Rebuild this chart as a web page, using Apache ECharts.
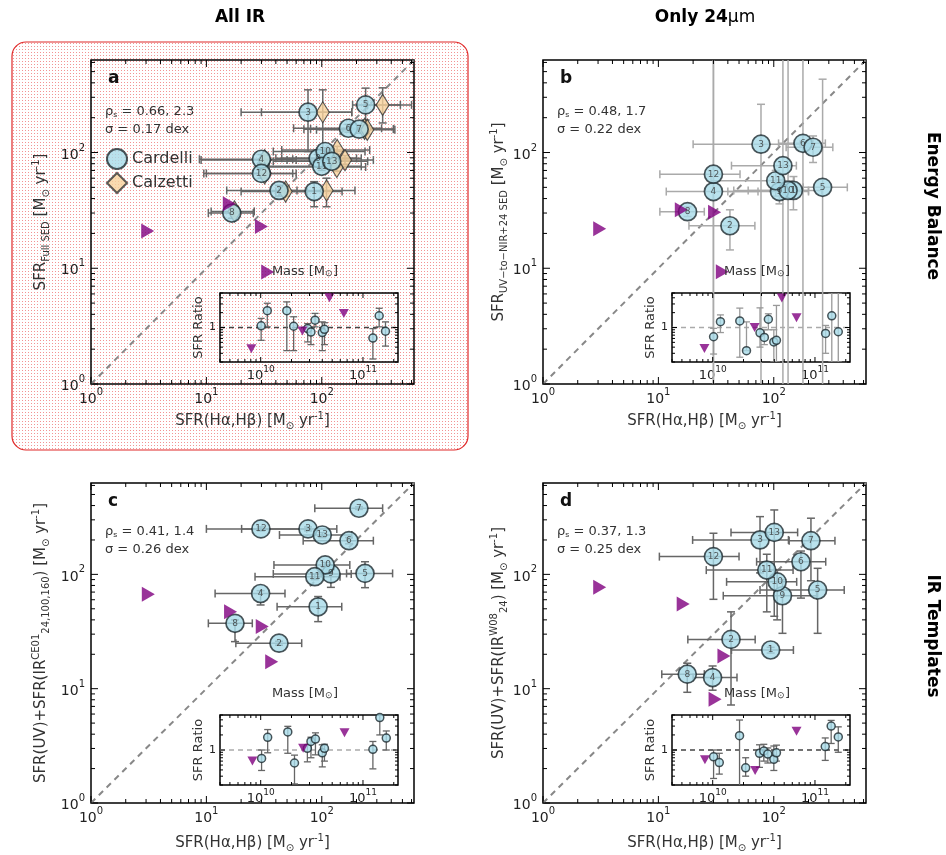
<!DOCTYPE html>
<html>
<head>
<meta charset="utf-8">
<script src="https://cdn.jsdelivr.net/npm/echarts@6/dist/echarts.min.js"></script>
<style>
html, body { margin: 0; padding: 0; background: #fff; }
#chart { width: 946px; height: 855px; }
</style>
</head>
<body>
<div id="chart"></div>
<script>
// rows: [id, x, xlo, xhi, y, ylo, yhi]
const aCardelli = [
  [1, 86, 40, 150, 46, 34, 56], [2, 42.6, 15, 61, 47, 42, 52], [3, 76, 20, 182, 223, 102, 348],
  [4, 30, 8.7, 56, 87.5, 80, 96], [5, 240, 185, 480, 258, 191, 360], [6, 170, 57, 330, 162, 150, 175],
  [7, 211, 70, 417, 159, 147, 172], [8, 16.6, 10.4, 25.5, 30, 27, 33], [9, 93, 40, 200, 89, 82, 96],
  [10, 107, 38, 237, 102, 94, 110], [11, 100, 28, 220, 76, 70, 83], [12, 30, 9.5, 56, 66, 60, 72],
  [13, 122, 38, 250, 84, 77, 92]
];
const aCalzetti = [
  [1, 110, 48, 194, 47, 34, 60], [2, 48.6, 20, 75, 46, 42, 51], [3, 102, 30, 182, 223, 100, 348],
  [4, 32, 9, 60, 86, 80, 94], [5, 337, 250, 600, 258, 180, 362], [6, 235, 80, 420, 160, 148, 173],
  [7, 248, 90, 430, 157, 145, 170], [8, 17.5, 11, 26, 31, 28, 34], [9, 120, 45, 220, 89, 82, 96],
  [10, 136, 45, 260, 105, 97, 113], [11, 135, 35, 240, 75, 69, 82], [12, 32, 10, 60, 66, 60, 72],
  [13, 159, 50, 280, 86, 79, 94]
];
const aLimits = [[3.1, 21], [15.8, 36], [30, 22.9], [34, 9.3]];

const bPoints = [
  [1, 148, 60, 260, 47, 32, 62], [2, 41.7, 18.4, 68.6, 23.3, 14.4, 32], [3, 77.5, 20, 169, 118, 0.3, 261],
  [4, 30, 11.7, 73, 46, 0.3, 2000], [5, 265, 180, 434, 50, 0.3, 430], [6, 179, 110, 280, 120, 0.3, 2000],
  [7, 219, 128, 325, 111, 82, 139], [8, 17.9, 10.3, 25, 30.8, 28, 34], [9, 112, 40, 200, 46, 36, 58],
  [10, 133, 45, 200, 47, 0.3, 2000], [11, 104, 28.6, 150, 57, 42, 70], [12, 30, 10.3, 51, 65, 0.3, 2000],
  [13, 120, 43, 157, 77, 0.3, 2000]
];
const bLimits = [[3.1, 22], [15.8, 32], [30.7, 30.5], [35.8, 9.35]];

const cPoints = [
  [1, 93, 41, 149, 52, 38.6, 64], [2, 42.6, 18, 67, 25, 24, 26], [3, 76, 20.2, 135, 250, 240, 260],
  [4, 29.5, 11.9, 48, 68, 54, 72], [5, 237, 164, 411, 102, 76.5, 129], [6, 172, 69, 280, 197, 185, 210],
  [7, 210, 87, 337, 379, 370, 390], [8, 17.7, 10.4, 25, 37.3, 25.8, 40], [9, 120, 38, 180, 101, 77, 110],
  [10, 107, 38.5, 175, 121, 115, 127], [11, 87, 26.4, 144, 95.5, 90, 100], [12, 29.7, 10, 74, 250, 240, 260],
  [13, 101, 43, 182, 221, 210, 232]
];
const cLimits = [[3.14, 67], [16.2, 47], [30.5, 35], [36.8, 17.2]];

const dPoints = [
  [1, 94, 43, 148, 21.8, 20.5, 23], [2, 42.6, 18, 69, 27, 7.2, 47], [3, 76, 19.8, 134, 200, 103, 320],
  [4, 29.5, 20, 48, 12.5, 9.7, 15.8], [5, 240, 76, 408, 73, 30.5, 113], [6, 172, 71, 282, 129, 62, 160],
  [7, 210, 136, 339, 197, 88, 310], [8, 17.8, 10.7, 25, 13.4, 9.3, 16.7], [9, 119, 36.5, 235, 65, 30.5, 90],
  [10, 107, 39, 158, 86, 40, 110], [11, 87, 26, 147, 109, 47, 150], [12, 30, 10.2, 50, 143, 60.5, 229],
  [13, 101, 42.6, 161, 233, 43, 366]
];
const dLimits = [[3.1, 77], [16.4, 55], [37, 19.3], [31, 8.1]];

// inset rows: [mass, ratio, lo, hi]
const aInset = [
  [1.01e10, 1.08, 0.55, 1.53], [1.16e10, 2.19, 1.03, 3.1], [1.8e10, 2.19, 0.34, 3.3], [2.1e10, 1.06, 0.34, 1.65],
  [2.88e10, 0.95, 0.51, 1.2], [3.1e10, 0.81, 0.45, 0.97], [3.4e10, 1.41, 1.03, 1.93], [4.0e10, 0.79, 0.34, 1.3],
  [4.2e10, 0.92, 0.45, 1.25], [1.25e11, 0.61, 0.23, 0.95], [1.44e11, 1.73, 1.03, 2.45], [1.66e11, 0.84, 0.42, 1.3]
];
const aInsetLimits = [[8.1e9, 0.37], [2.56e10, 0.85], [4.7e10, 4.0], [6.5e10, 1.93]];

const bInset = [
  [1.02e10, 0.65, 0.29, 0.96], [1.19e10, 1.31, 0.79, 1.8], [1.84e10, 1.36, 0.25, 2.47], [2.14e10, 0.34, 0.34, 1.3],
  [2.9e10, 0.78, 0.4, 2.5], [3.2e10, 0.63, 0.45, 0.9], [3.5e10, 1.47, 0.9, 1.9], [3.96e10, 0.51, 0.2, 0.9],
  [4.2e10, 0.55, 0.2, 2.8], [1.27e11, 0.76, 0.3, 1.1], [1.46e11, 1.72, 0.2, 5], [1.69e11, 0.82, 0.2, 5]
];
const bInsetLimits = [[8.3e9, 0.376], [2.57e10, 1.0], [4.74e10, 3.96], [6.6e10, 1.58]];

const cInset = [
  [1.02e10, 0.68, 0.39, 1.0], [1.17e10, 1.79, 0.88, 2.56], [1.84e10, 2.3, 0.86, 2.97], [2.14e10, 0.55, 0.21, 0.79],
  [2.86e10, 1.08, 0.58, 1.27], [3.1e10, 1.48, 0.7, 1.8], [3.43e10, 1.65, 0.8, 2.2], [4.0e10, 0.88, 0.46, 1.27],
  [4.2e10, 1.08, 0.6, 1.3], [1.25e11, 1.03, 0.42, 1.48], [1.46e11, 4.45, 2.0, 5.2], [1.69e11, 1.73, 1.0, 2.4]
];
const cInsetLimits = [[8.3e9, 0.6], [2.6e10, 1.08], [6.6e10, 2.2]];

const dInset = [
  [1.02e10, 0.73, 0.27, 1.0], [1.16e10, 0.56, 0.33, 0.86], [1.83e10, 1.93, 0.15, 3.97], [2.1e10, 0.44, 0.3, 0.7],
  [2.87e10, 0.86, 0.45, 1.27], [3.16e10, 0.95, 0.6, 1.3], [3.46e10, 0.83, 0.55, 1.1], [3.96e10, 0.65, 0.39, 1.2],
  [4.2e10, 0.88, 0.6, 1.25], [1.26e11, 1.17, 0.62, 1.74], [1.44e11, 3.0, 1.35, 3.9], [1.69e11, 1.82, 0.9, 2.9]
];
const dInsetLimits = [[8.4e9, 0.64], [2.6e10, 0.39], [6.6e10, 2.36]];

const statsText = [
  ['0.66, 2.3', '0.17'], ['0.48, 1.7', '0.22'], ['0.41, 1.4', '0.26'], ['0.37, 1.3', '0.25']
];

const FONT = 'DejaVu Sans';
const MAIN_MIN = 1, MAIN_MAX = 630;
const MASS_MIN = 4e9, MASS_MAX = 2.2e11;
const RATIO_MIN = 0.2, RATIO_MAX = 5;

const richSub = {
  sub: { fontSize: 10, lineHeight: 10, verticalAlign: 'bottom', fontFamily: FONT, color: '#333' },
  sup: { fontSize: 10, lineHeight: 10, verticalAlign: 'top', fontFamily: FONT, color: '#333' }
};
const powRich = {
  b: { fontSize: 14, lineHeight: 19, verticalAlign: 'bottom', fontFamily: FONT, color: '#222' },
  e: { fontSize: 10, lineHeight: 11, verticalAlign: 'top', fontFamily: FONT, color: '#222' }
};
const powLabel = (v) => {
  const l = Math.log10(v), e = Math.round(l);
  if (Math.abs(l - e) > 1e-6) return '';
  return '{b|10}{e|' + e + '}';
};

function logTicks(lo, hi) {
  const out = [];
  for (let d = Math.floor(Math.log10(lo)); d <= Math.ceil(Math.log10(hi)); d++) {
    for (let k = 1; k <= 9; k++) {
      const v = k * Math.pow(10, d);
      if (v >= lo * 0.999 && v <= hi * 1.001) out.push([v, k === 1 ? 1 : 0]);
    }
  }
  return out;
}

function tickSeries(gi, xr, yr, refX, refY, majLen, minLen) {
  const data = [];
  logTicks(xr[0], xr[1]).forEach(t => data.push([t[0], refY, 0, t[1]]));
  logTicks(yr[0], yr[1]).forEach(t => data.push([refX, t[0], 1, t[1]]));
  return {
    type: 'custom', xAxisIndex: gi, yAxisIndex: gi, silent: true, z: 5,
    data: data,
    renderItem: (params, api) => {
      const cs = params.coordSys;
      const p = api.coord([api.value(0), api.value(1)]);
      const len = api.value(3) ? majLen : minLen;
      const st = { stroke: '#000', lineWidth: 1 };
      let l1, l2;
      if (!api.value(2)) {
        l1 = { x1: p[0], y1: cs.y + cs.height, x2: p[0], y2: cs.y + cs.height - len };
        l2 = { x1: p[0], y1: cs.y, x2: p[0], y2: cs.y + len };
      } else {
        l1 = { x1: cs.x, y1: p[1], x2: cs.x + len, y2: p[1] };
        l2 = { x1: cs.x + cs.width, y1: p[1], x2: cs.x + cs.width - len, y2: p[1] };
      }
      return { type: 'group', children: [
        { type: 'line', shape: l1, style: st },
        { type: 'line', shape: l2, style: st }
      ] };
    }
  };
}

function errSeries(gi, data, color, cap, width) {
  return {
    type: 'custom', xAxisIndex: gi, yAxisIndex: gi, silent: true, z: 2, clip: true,
    encode: { x: 0, y: 1 },
    data: data,
    renderItem: (params, api) => {
      const x = api.value(0), y = api.value(1);
      const st = { stroke: color, lineWidth: width };
      const ch = [];
      if (api.value(2) !== api.value(3)) {
        const a = api.coord([api.value(2), y]), b = api.coord([api.value(3), y]);
        ch.push({ type: 'line', shape: { x1: a[0], y1: a[1], x2: b[0], y2: b[1] }, style: st });
        ch.push({ type: 'line', shape: { x1: a[0], y1: a[1] - cap, x2: a[0], y2: a[1] + cap }, style: st });
        ch.push({ type: 'line', shape: { x1: b[0], y1: b[1] - cap, x2: b[0], y2: b[1] + cap }, style: st });
      }
      if (api.value(4) !== api.value(5)) {
        const a = api.coord([x, api.value(4)]), b = api.coord([x, api.value(5)]);
        ch.push({ type: 'line', shape: { x1: a[0], y1: a[1], x2: b[0], y2: b[1] }, style: st });
        ch.push({ type: 'line', shape: { x1: a[0] - cap, y1: a[1], x2: a[0] + cap, y2: a[1] }, style: st });
        ch.push({ type: 'line', shape: { x1: b[0] - cap, y1: b[1], x2: b[0] + cap, y2: b[1] }, style: st });
      }
      return { type: 'group', children: ch };
    }
  };
}

const xName = 'SFR(Hα,Hβ) [M{sub|⊙} yr{sup|-1}]';
const panels = [
  { id: 'a', main: { left: 91, top: 60, width: 323, height: 324 }, inset: { left: 220, top: 293, width: 178, height: 69 },
    pts: aCardelli, calz: aCalzetti, lims: aLimits, ins: aInset, insLims: aInsetLimits,
    err: '#666', insLine: '#444', yGap: 40, xGap: 27,
    yName: 'SFR{sub|Full SED} [M{sub|⊙} yr{sup|-1}]' },
  { id: 'b', main: { left: 543, top: 60, width: 323, height: 324 }, inset: { left: 672, top: 293, width: 178, height: 69 },
    pts: bPoints, lims: bLimits, ins: bInset, insLims: bInsetLimits,
    err: '#aaa', insLine: '#aaa', yGap: 32, xGap: 27,
    yName: 'SFR{sub|UV−to−NIR+24 SED} [M{sub|⊙} yr{sup|-1}]' },
  { id: 'c', main: { left: 91, top: 483, width: 323, height: 320 }, inset: { left: 220, top: 715, width: 178, height: 70 },
    pts: cPoints, lims: cLimits, ins: cInset, insLims: cInsetLimits,
    err: '#666', insLine: '#aaa', yGap: 40, xGap: 30,
    yName: 'SFR(UV)+SFR(IR{sup|CE01}{sub|24,100,160}) [M{sub|⊙} yr{sup|-1}]' },
  { id: 'd', main: { left: 543, top: 483, width: 323, height: 320 }, inset: { left: 672, top: 715, width: 178, height: 70 },
    pts: dPoints, lims: dLimits, ins: dInset, insLims: dInsetLimits,
    err: '#666', insLine: '#444', yGap: 32, xGap: 30,
    yName: 'SFR(UV)+SFR(IR{sup|W08}{sub|24}) [M{sub|⊙} yr{sup|-1}]' }
];

const option = {
  animation: false,
  backgroundColor: '#fff',
  textStyle: { fontFamily: FONT },
  grid: [], xAxis: [], yAxis: [], series: [], graphic: [],
  legend: {
    left: 101, top: 143, orient: 'vertical', itemGap: 2, itemWidth: 20, itemHeight: 20,
    data: ['Cardelli', 'Calzetti'],
    textStyle: { fontSize: 16, color: '#333', fontFamily: FONT }
  }
};

const circleStyle = { color: '#a8dbe8', borderColor: '#1e2b30', borderWidth: 1.7 };
const nameStyle = { fontSize: 15, lineHeight: 20, color: '#333', fontFamily: FONT, rich: richSub };

panels.forEach((p, i) => {
  const gm = option.grid.length;
  option.grid.push(Object.assign({ show: true, borderColor: '#000', borderWidth: 1.5, backgroundColor: 'transparent' }, p.main));
  const axBase = {
    gridIndex: gm, type: 'log', logBase: 10, min: MAIN_MIN, max: MAIN_MAX,
    axisLine: { show: false }, axisTick: { show: false }, splitLine: { show: false },
    nameLocation: 'middle', nameTextStyle: nameStyle
  };
  option.xAxis.push(Object.assign({}, axBase, {
    name: xName, nameGap: p.xGap,
    axisLabel: { formatter: powLabel, rich: powRich, margin: 3 }
  }));
  option.yAxis.push(Object.assign({}, axBase, {
    name: p.yName, nameGap: p.yGap, nameRotate: 90,
    axisLabel: { formatter: powLabel, rich: powRich, margin: 6 }
  }));

  const gi = gm + 1;
  option.grid.push(Object.assign({ show: true, borderColor: '#000', borderWidth: 1.5, backgroundColor: 'transparent' }, p.inset));
  option.xAxis.push({
    gridIndex: gi, type: 'log', logBase: 10, min: MASS_MIN, max: MASS_MAX,
    axisLine: { show: false }, axisTick: { show: false }, splitLine: { show: false },
    axisLabel: { formatter: powLabel, margin: 3, showMinLabel: false, showMaxLabel: false,
      rich: { b: Object.assign({}, powRich.b, { fontSize: 13, lineHeight: 17 }), e: Object.assign({}, powRich.e, { fontSize: 9 }) } }
  });
  option.yAxis.push({
    gridIndex: gi, type: 'log', logBase: 10, min: RATIO_MIN, max: RATIO_MAX,
    axisLine: { show: false }, axisTick: { show: false }, splitLine: { show: false },
    axisLabel: { formatter: (v) => Math.abs(v - 1) < 1e-6 ? '1' : '', margin: 4, fontSize: 11, color: '#222', fontFamily: FONT,
      showMinLabel: false, showMaxLabel: false },
    name: 'SFR Ratio', nameLocation: 'middle', nameRotate: 90, nameGap: 10,
    nameTextStyle: { fontSize: 13, color: '#333', fontFamily: FONT }
  });

  const S = option.series;
  S.push(tickSeries(gm, [MAIN_MIN, MAIN_MAX], [MAIN_MIN, MAIN_MAX], MAIN_MIN, MAIN_MIN, 7, 4));
  S.push({
    type: 'line', xAxisIndex: gm, yAxisIndex: gm, silent: true, symbol: 'none', z: 1,
    data: [[MAIN_MIN, MAIN_MIN], [MAIN_MAX, MAIN_MAX]],
    lineStyle: { color: '#888', width: 2, type: [6, 5] }
  });
  S.push(errSeries(gm, p.pts.map(r => [r[1], r[4], r[2], r[3], r[5], r[6]]), p.err, 4, 1.5));
  if (p.calz) {
    S.push(errSeries(gm, p.calz.map(r => [r[1], r[4], r[2], r[3], r[5], r[6]]), p.err, 4, 1.5));
    S.push({
      name: 'Calzetti', type: 'scatter', xAxisIndex: gm, yAxisIndex: gm, silent: true, z: 3,
      symbol: 'diamond', symbolSize: [13, 21],
      itemStyle: { color: '#f8d29c', borderColor: '#333', borderWidth: 1.2 },
      data: p.calz.map(r => [r[1], r[4], r[0]])
    });
  }
  S.push({
    name: p.calz ? 'Cardelli' : 'circles-' + p.id, type: 'scatter', xAxisIndex: gm, yAxisIndex: gm, silent: true, z: 4,
    symbol: 'circle', symbolSize: 18, itemStyle: circleStyle,
    label: { show: true, position: 'inside', formatter: (q) => q.value[2], fontSize: 9, color: '#333', fontFamily: FONT },
    data: p.pts.map(r => [r[1], r[4], r[0]])
  });
  S.push({
    type: 'scatter', xAxisIndex: gm, yAxisIndex: gm, silent: true, z: 4,
    symbol: 'triangle', symbolRotate: -90, symbolSize: [15, 13],
    itemStyle: { color: '#800080' },
    data: p.lims
  });

  S.push(tickSeries(gi, [MASS_MIN, MASS_MAX], [RATIO_MIN, RATIO_MAX], 1e10, 1, 5, 3));
  S.push({
    type: 'line', xAxisIndex: gi, yAxisIndex: gi, silent: true, symbol: 'none', z: 1,
    data: [[MASS_MIN, 1], [MASS_MAX, 1]],
    lineStyle: { color: p.insLine, width: 1.5, type: [5, 4] }
  });
  S.push(errSeries(gi, p.ins.map(r => [r[0], r[1], r[0], r[0], r[2], r[3]]), p.err === '#aaa' ? '#999' : '#666', 3.5, 1.3));
  S.push({
    type: 'scatter', xAxisIndex: gi, yAxisIndex: gi, silent: true, z: 4,
    symbol: 'circle', symbolSize: 8, itemStyle: { color: '#a8dbe8', borderColor: '#1e2b30', borderWidth: 1.5 },
    data: p.ins.map(r => [r[0], r[1]])
  });
  S.push({
    type: 'scatter', xAxisIndex: gi, yAxisIndex: gi, silent: true, z: 4,
    symbol: 'triangle', symbolRotate: 180, symbolSize: [10, 9],
    itemStyle: { color: '#800080' },
    data: p.insLims
  });

  // panel texts
  const tx = p.main.left + 16, top = p.main.top;
  const off = i < 2 ? [19, 52, 70] : [19, 49, 67];
  option.graphic.push({ type: 'text', x: tx + 1, y: top + off[0], z: 10,
    style: { text: p.id, font: 'bold 17px ' + FONT, fill: '#111', verticalAlign: 'middle' } });
  option.graphic.push({ type: 'text', x: tx - 2, y: top + off[1], z: 10,
    style: { text: 'ρ{s|s} = ' + statsText[i][0], font: '13px ' + FONT, fill: '#333', verticalAlign: 'middle',
      rich: { s: { fontSize: 8, lineHeight: 8, verticalAlign: 'bottom', fill: '#333' } } } });
  option.graphic.push({ type: 'text', x: tx - 2, y: top + off[2], z: 10,
    style: { text: 'σ = ' + statsText[i][1] + ' dex', font: '13px ' + FONT, fill: '#333', verticalAlign: 'middle' } });
  option.graphic.push({ type: 'text', x: p.inset.left + p.inset.width / 2 - 4, y: p.inset.top - 21, z: 10,
    style: { text: 'Mass [M{s|⊙}]', font: '13px ' + FONT, fill: '#333', align: 'center', verticalAlign: 'middle',
      rich: { s: { fontSize: 9, lineHeight: 9, verticalAlign: 'bottom', fill: '#333' } } } });
});

// pink dotted frame around panel a
const pc = document.createElement('canvas');
pc.width = 3; pc.height = 3;
const pg = pc.getContext('2d');
pg.fillStyle = '#fff'; pg.fillRect(0, 0, 3, 3);
pg.fillStyle = '#f29494'; pg.fillRect(1, 1, 1, 1);
option.graphic.push({ type: 'rect', z: -10, silent: true,
  shape: { x: 12, y: 42, width: 456, height: 408, r: 14 },
  style: { fill: { image: pc, repeat: 'repeat' }, stroke: '#e02828', lineWidth: 1.2 } });

option.graphic.push({ type: 'text', x: 240, y: 18, z: 10,
  style: { text: 'All IR', font: 'bold 17px ' + FONT, fill: '#000', align: 'center', verticalAlign: 'middle' } });
option.graphic.push({ type: 'text', x: 705, y: 18, z: 10,
  style: { text: '{b|Only 24}{m|μm}', font: 'bold 17px ' + FONT, fill: '#000', align: 'center', verticalAlign: 'middle',
    rich: { b: { font: 'bold 17px ' + FONT, fill: '#000' }, m: { font: '17px ' + FONT, fill: '#000' } } } });
option.graphic.push({ type: 'text', x: 932, y: 206, rotation: -Math.PI / 2, z: 10,
  style: { text: 'Energy Balance', font: 'bold 17px ' + FONT, fill: '#000', align: 'center', verticalAlign: 'middle' } });
option.graphic.push({ type: 'text', x: 932, y: 636, rotation: -Math.PI / 2, z: 10,
  style: { text: 'IR Templates', font: 'bold 17px ' + FONT, fill: '#000', align: 'center', verticalAlign: 'middle' } });

const chart = echarts.init(document.getElementById('chart'));
chart.setOption(option);
</script>
</body>
</html>
